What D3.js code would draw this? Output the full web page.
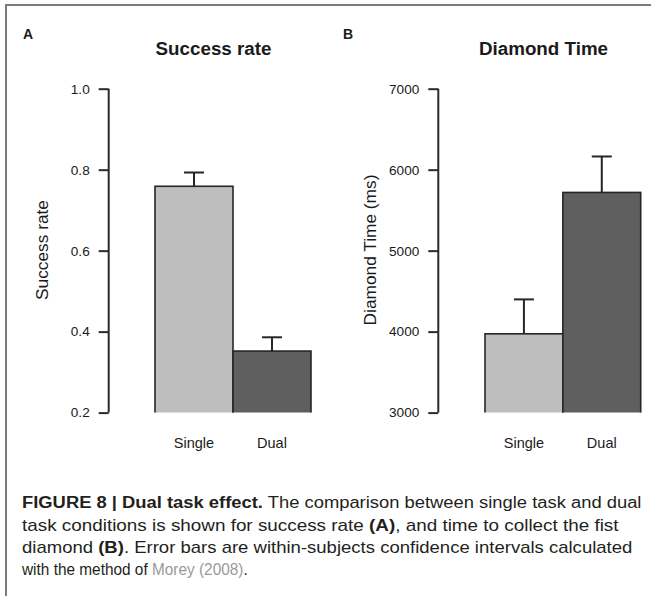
<!DOCTYPE html>
<html>
<head>
<meta charset="utf-8">
<script src="https://cdn.jsdelivr.net/npm/d3@7"></script>
<style>
  html, body { margin: 0; padding: 0; background: #fff; }
  svg { display: block; }
  text { font-family: "Liberation Sans", Arial, Helvetica, sans-serif; fill: #1a1a1a; }
</style>
</head>
<body>
<svg id="fig" width="651" height="596"></svg>
<script>
// Conditions shown on both panels
const conditions = ["Single", "Dual"];

// Panel A: success rate (mean and upper CI limit)
const successMean = [0.759, 0.352];
const successUpper = [0.793, 0.386];
const successTicks = [0.2, 0.4, 0.6, 0.8, 1.0];

// Panel B: time to first diamond in ms (mean and upper CI limit)
const timeMean = [3973, 5719];
const timeUpper = [4398, 6163];
const timeTicks = [3000, 4000, 5000, 6000, 7000];

const barFills = ["#bebebe", "#5f5f5f"];

const svg = d3.select("#fig");

// Figure frame (top and left rules)
svg.append("line").attr("x1", 5).attr("x2", 651).attr("y1", 5).attr("y2", 5)
  .attr("stroke", "#7a7a7a").attr("stroke-width", 2);
svg.append("line").attr("x1", 6).attr("x2", 6).attr("y1", 5).attr("y2", 596)
  .attr("stroke", "#7a7a7a").attr("stroke-width", 2);

function panel(opts) {
  const g = svg.append("g");
  const y = d3.scaleLinear().domain(opts.domain).range([412.6, 88.7]);
  const x = d3.scaleBand().domain(conditions).range(opts.barRange).paddingInner(0).paddingOuter(0);

  // panel letter
  g.append("text").attr("x", opts.letterX).attr("y", 38.5)
    .attr("font-size", 14).attr("font-weight", "bold").text(opts.letter);

  // title
  g.append("text").attr("x", opts.titleX).attr("y", 54.5)
    .attr("text-anchor", "middle").attr("font-size", 18.8).attr("font-weight", "bold")
    .text(opts.title);

  // y axis
  const axis = d3.axisLeft(y).tickValues(opts.ticks).tickSize(10).tickPadding(9)
    .tickFormat(opts.format);
  const ag = g.append("g").attr("transform", `translate(${opts.axisX},0)`).call(axis);
  ag.select(".domain").attr("stroke", "#2a2a2a").attr("stroke-width", 2)
    .attr("d", `M0,${y.range()[0]}V${y.range()[1]}`);
  ag.selectAll(".tick line").attr("stroke", "#2a2a2a").attr("stroke-width", 2);
  ag.selectAll(".tick text").attr("font-size", 13.6).attr("fill", "#2a2a2a")
    .attr("font-family", "'Liberation Sans', Arial, sans-serif");

  // y axis label
  g.append("text")
    .attr("transform", `translate(${opts.labelX},250) rotate(-90)`)
    .attr("text-anchor", "middle").attr("font-size", 17.3)
    .text(opts.ylabel);

  // clip so bars are cut at the bottom of the plot region
  const clipId = "clip" + opts.letter;
  svg.append("clipPath").attr("id", clipId).append("rect")
    .attr("x", 0).attr("y", 0).attr("width", 651).attr("height", y.range()[0]);

  const bars = g.append("g").attr("clip-path", `url(#${clipId})`);
  bars.selectAll("rect").data(conditions).join("rect")
    .attr("x", d => x(d))
    .attr("width", x.bandwidth())
    .attr("y", (d, i) => y(opts.mean[i]))
    .attr("height", (d, i) => y.range()[0] - y(opts.mean[i]) + 6)
    .attr("fill", (d, i) => barFills[i])
    .attr("stroke", "#262626").attr("stroke-width", 1.6);

  // error bars (upper arm)
  const eb = g.append("g").attr("stroke", "#262626").attr("stroke-width", 2);
  conditions.forEach((c, i) => {
    const cx = x(c) + x.bandwidth() / 2;
    eb.append("line").attr("x1", cx).attr("x2", cx)
      .attr("y1", y(opts.mean[i])).attr("y2", y(opts.upper[i]));
    eb.append("line").attr("x1", cx - 10).attr("x2", cx + 10)
      .attr("y1", y(opts.upper[i])).attr("y2", y(opts.upper[i]));
  });

  // category labels
  g.selectAll("text.cat").data(conditions).join("text").attr("class", "cat")
    .attr("x", d => x(d) + x.bandwidth() / 2).attr("y", 448)
    .attr("text-anchor", "middle").attr("font-size", 14.5)
    .text(d => d);
}

panel({
  letter: "A", letterX: 23, title: "Success rate", titleX: 213.5,
  domain: [0.2, 1.0], ticks: successTicks, format: d3.format(".1f"),
  axisX: 108.7, barRange: [155, 311], labelX: 47.5, ylabel: "Success rate",
  mean: successMean, upper: successUpper
});

panel({
  letter: "B", letterX: 343, title: "Diamond Time", titleX: 543.5,
  domain: [3000, 7000], ticks: timeTicks, format: d3.format("d"),
  axisX: 438.3, barRange: [485, 640.7], labelX: 376, ylabel: "Diamond Time (ms)",
  mean: timeMean, upper: timeUpper
});

// Caption
const captionLines = [
  { y: 508.3, end: 642, parts: [
    { t: "FIGURE 8 | Dual task effect.", b: true },
    { t: " The comparison between single task and dual" } ] },
  { y: 530.6, end: 619, parts: [
    { t: "task conditions is shown for success rate " },
    { t: "(A)", b: true },
    { t: ", and time to collect the fist" } ] },
  { y: 552.9, end: 633, parts: [
    { t: "diamond " },
    { t: "(B)", b: true },
    { t: ". Error bars are within-subjects confidence intervals calculated" } ] },
  { y: 575.2, end: 204, last: true, parts: [
    { t: "with the method of " },
    { t: "Morey (2008)", c: "#9a9a9a" },
    { t: "." } ] }
];

const capX = 22;
let firstScale = 1;
captionLines.forEach((line, li) => {
  const gl = svg.append("g");
  const txt = gl.append("text").attr("x", 0).attr("y", 0)
    .attr("font-size", 16).attr("fill", "#231f20").style("white-space", "pre");
  line.parts.forEach(p => {
    txt.append("tspan")
      .attr("font-weight", p.b ? "bold" : "normal")
      .attr("fill", p.c || "#231f20")
      .text(p.t);
  });
  const w = txt.node().getComputedTextLength();
  let sx = (line.end - capX) / w;
  if (li === 0) firstScale = sx;
  // the short closing line is not stretched to a full width; blend toward the paragraph scale
  if (line.last) sx = (sx + firstScale) / 2;
  gl.attr("transform", `translate(${capX},${line.y}) scale(${sx},1)`);
});
</script>
</body>
</html>
